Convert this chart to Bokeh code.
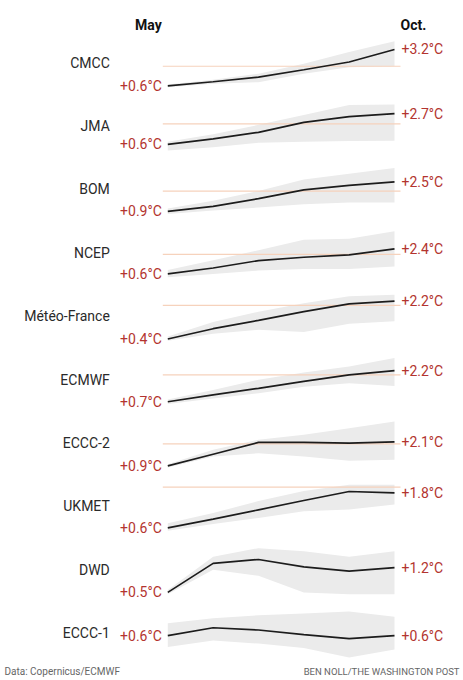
from bokeh.plotting import figure
from bokeh.models import Range1d
from bokeh.core.properties import value
from bokeh.embed import file_html
from bokeh.resources import INLINE

# ---------------- data ----------------
months = ["May", "Jun", "Jul", "Aug", "Sep", "Oct"]
models = ["CMCC", "JMA", "BOM", "NCEP", "Météo-France", "ECMWF",
          "ECCC-2", "UKMET", "DWD", "ECCC-1"]

# ensemble-mean anomaly (°C)
cmcc = [0.6, 0.89, 1.22, 1.75, 2.30, 3.2]
jma = [0.6, 0.97, 1.42, 2.10, 2.50, 2.7]
bom = [0.9, 1.17, 1.59, 2.06, 2.31, 2.5]
ncep = [0.6, 1.03, 1.56, 1.80, 1.97, 2.4]
meteo = [0.4, 0.89, 1.29, 1.70, 2.07, 2.2]
ecmwf = [0.7, 1.03, 1.35, 1.68, 2.00, 2.2]
eccc2 = [0.9, 1.48, 2.07, 2.07, 2.03, 2.1]
ukmet = [0.6, 0.90, 1.22, 1.54, 1.85, 1.8]
dwd = [0.5, 1.32, 1.43, 1.22, 1.10, 1.2]
eccc1 = [0.6, 0.81, 0.75, 0.63, 0.52, 0.6]

# ensemble spread: upper / lower edges (°C)
cmcc_hi = [0.69, 1.03, 1.46, 2.18, 3.01, 3.79]
cmcc_lo = [0.50, 0.74, 0.86, 1.46, 1.93, 2.00]
jma_hi = [0.78, 1.28, 1.93, 2.61, 3.29, 3.32]
jma_lo = [0.17, 0.39, 0.70, 0.78, 0.83, 0.85]
bom_hi = [1.06, 1.47, 2.00, 2.63, 2.93, 3.25]
bom_lo = [0.76, 0.94, 1.11, 1.29, 1.38, 1.38]
ncep_hi = [0.89, 1.58, 2.30, 3.05, 3.12, 3.66]
ncep_lo = [0.36, 0.60, 0.84, 0.96, 0.96, 1.13]
meteo_hi = [0.52, 1.21, 1.70, 2.10, 2.43, 2.51]
meteo_lo = [0.32, 0.65, 0.84, 0.73, 1.13, 1.25]
ecmwf_hi = [0.81, 1.27, 1.76, 2.11, 2.40, 2.81]
ecmwf_lo = [0.59, 0.86, 1.11, 1.43, 1.59, 1.46]
eccc2_hi = [0.98, 1.70, 2.20, 2.45, 2.78, 3.12]
eccc2_lo = [0.82, 1.37, 1.53, 1.37, 1.15, 1.20]
ukmet_hi = [0.76, 1.11, 1.52, 1.87, 2.08, 2.08]
ukmet_lo = [0.50, 0.73, 0.94, 1.17, 1.23, 1.40]
dwd_hi = [0.57, 1.51, 1.75, 1.66, 1.51, 1.66]
dwd_lo = [0.45, 1.14, 0.97, 0.50, 0.45, 0.45]
eccc1_hi = [0.93, 1.06, 1.14, 1.19, 1.24, 1.10]
eccc1_lo = [0.30, 0.47, 0.39, 0.27, 0.02, 0.23]

threshold = 2.0
source_text = "Data: Copernicus/ECMWF"
credit_text = "BEN NOLL/THE WASHINGTON POST"

means = [cmcc, jma, bom, ncep, meteo, ecmwf, eccc2, ukmet, dwd, eccc1]
highs = [cmcc_hi, jma_hi, bom_hi, ncep_hi, meteo_hi, ecmwf_hi, eccc2_hi, ukmet_hi, dwd_hi, eccc1_hi]
lows = [cmcc_lo, jma_lo, bom_lo, ncep_lo, meteo_lo, ecmwf_lo, eccc2_lo, ukmet_lo, dwd_lo, eccc1_lo]

# ---------------- layout ----------------
W, H = 463, 680
X_FIRST, X_LAST = 167.3, 394.0          # pixel position of May / Oct
PPM = (X_LAST - X_FIRST) / (len(months) - 1)
TOP0, PITCH, PANEL_H = 40.7, 63.37, 46.0

FONT = value("Roboto")
RED = "#b3342f"
INK = "#2a2a2a"

xs = list(range(len(months)))
last = len(months) - 1

p = figure(width=W, height=H, output_backend="svg", toolbar_location=None,
           x_range=Range1d(-X_FIRST / PPM, last + (W - X_FIRST - last * PPM) / PPM),
           y_range=Range1d(H, 0),
           x_axis_location=None, y_axis_location=None, min_border=0)
p.grid.visible = False
p.outline_line_color = None
p.background_fill_color = "white"
p.border_fill_color = "white"

ranges = {}
for i, (lo, hi) in enumerate(zip(lows, highs)):
    top = TOP0 + i * PITCH
    bot = top + PANEL_H
    mn, mx = min(lo), max(hi)
    k = (mx - mn) / PANEL_H
    ranges[f"r{i}"] = Range1d(start=mn - (H - bot) * k, end=mx + top * k)
p.extra_y_ranges = ranges

pad = 5.0 / PPM


def fmt(v):
    return f"+{v:.1f}°C"


for i, (name, mean, lo, hi) in enumerate(zip(models, means, lows, highs)):
    rn = f"r{i}"
    top = TOP0 + i * PITCH
    p.varea(x=xs, y1=lo, y2=hi, fill_color="#ebebeb", y_range_name=rn)
    if min(lo) < threshold < max(hi):
        p.segment(x0=[-pad], y0=[threshold], x1=[last + pad * 1.2], y1=[threshold],
                  line_color="#f6d2bc", line_width=1.2, y_range_name=rn)
    p.line(xs, mean, line_color="#1c1c1c", line_width=1.7, y_range_name=rn)
    p.text(x=[0], y=[mean[0]], text=[fmt(mean[0])], x_offset=-6,
           text_align="right", text_baseline="middle", text_color=RED,
           text_font=FONT, text_font_size="14px", y_range_name=rn)
    p.text(x=[last], y=[mean[-1]], text=[fmt(mean[-1])], x_offset=7,
           text_align="left", text_baseline="middle", text_color=RED,
           text_font=FONT, text_font_size="14px", y_range_name=rn)
    p.text(x=[0], y=[top + PANEL_H / 2 - 1.5], text=[name], x_offset=-58,
           text_align="right", text_baseline="middle", text_color=INK,
           text_font=FONT, text_font_size="14px")

# header
p.text(x=[0], y=[24], text=[months[0]], x_offset=-6, text_align="right",
       text_baseline="middle", text_color="#111111", text_font=FONT,
       text_font_size="14px", text_font_style="bold")
p.text(x=[last], y=[24], text=[months[-1] + "."], x_offset=6, text_align="left",
       text_baseline="middle", text_color="#111111", text_font=FONT,
       text_font_size="14px", text_font_style="bold")

# footer
p.text(x=[p.x_range.start], y=[671], text=[source_text], x_offset=4, text_align="left",
       text_baseline="middle", text_color="#666666", text_font=FONT,
       text_font_size="10px")
p.text(x=[p.x_range.end], y=[671], text=[credit_text], x_offset=-4, text_align="right",
       text_baseline="middle", text_color="#666666", text_font=FONT,
       text_font_size="9.5px")

open("out.html", "w").write(file_html(p, INLINE))
